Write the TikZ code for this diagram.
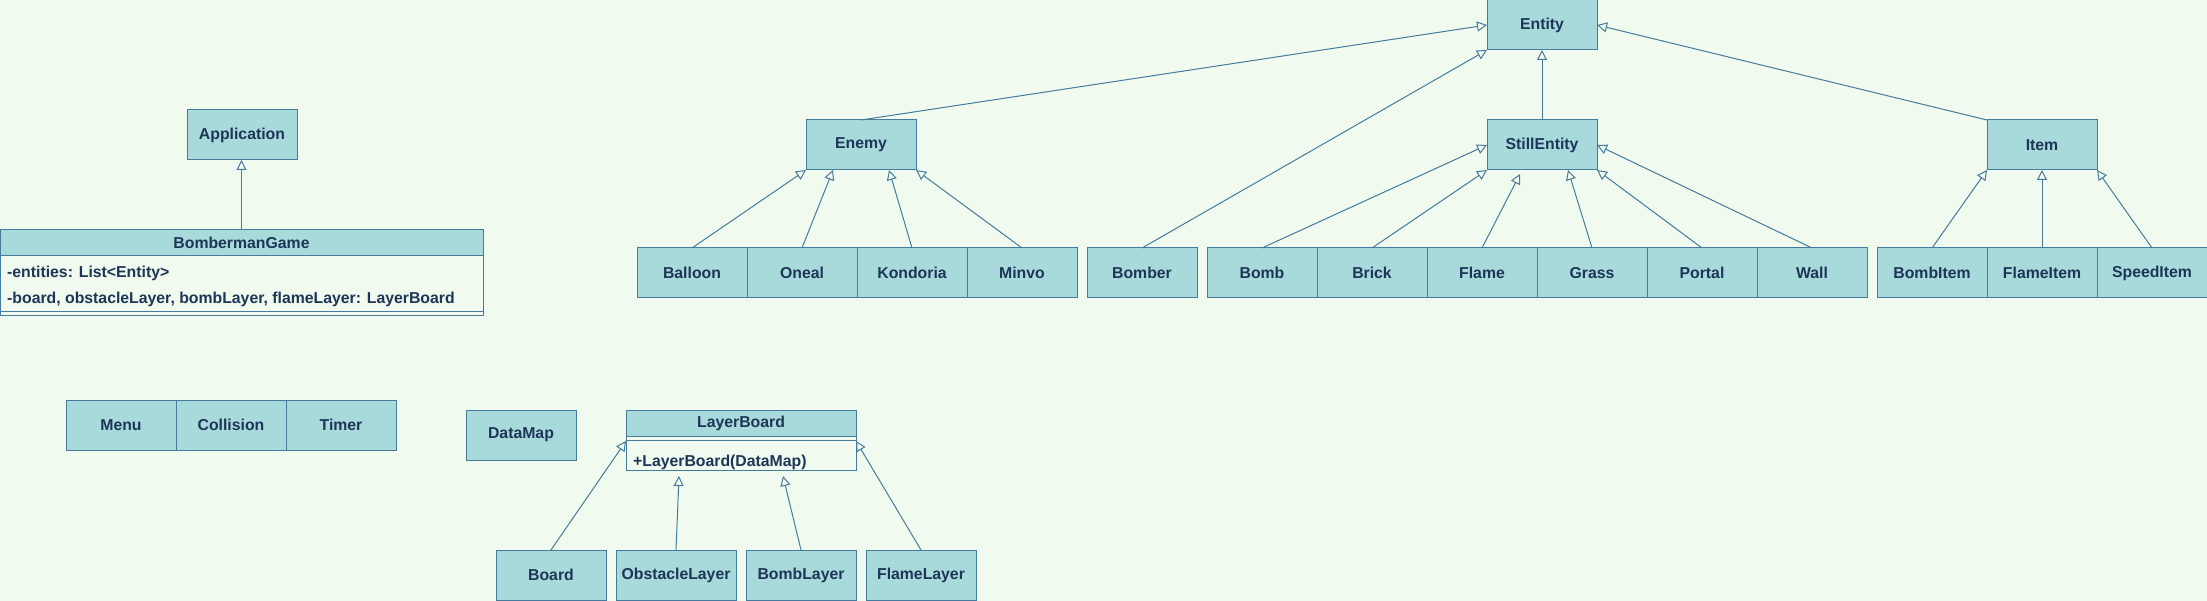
\documentclass[tikz,border=0pt]{standalone}
\usepackage{fontspec}
\setmainfont{Liberation Sans}
\usepackage{xcolor}
\usepackage{tikz}
\usetikzlibrary{positioning, arrows.meta}
\definecolor{oceanfill}{HTML}{A8DADC}
\definecolor{oceanline}{HTML}{457B9D}
\definecolor{oceantext}{HTML}{1D3557}
\definecolor{oceanbg}{HTML}{F1FAEE}
\tikzstyle{classbox} = [rectangle, minimum width=110pt, minimum height=50pt, inner sep=0pt, outer sep=0pt, text centered, draw=oceanline, fill=oceanfill, text=oceantext, line width=1pt, font=\bfseries\fontsize{15.8}{19}\selectfont]
\tikzstyle{classhead} = [classbox, minimum height=26pt]
\tikzstyle{classbody} = [rectangle, inner sep=0pt, outer sep=0pt, draw=oceanline, line width=1pt]
\tikzstyle{member} = [anchor=base west, inner sep=0pt, text=oceantext, font=\bfseries\fontsize{15.8}{19}\selectfont]
\tikzstyle{inherit} = [draw=oceanline, line width=1pt, -{Triangle[open, length=10pt, width=10pt]}]

\begin{document}
\begin{tikzpicture}[x=1pt, y=-1pt]

		% Background
		\fill [oceanbg] (0,0) rectangle (2207,601);
		\useasboundingbox (0,0) rectangle (2207,601);

		% Nodes for Entity hierarchy
		\node (entity) [classbox] at (1542,25) {Entity};
		\node (enemy) [classbox] at (861,145) {Enemy};
		\node (stillentity) [classbox] at (1542,145) {StillEntity};
		\node (item) [classbox] at (2042,145) {Item};

		% Enemies and bomber
		\node (balloon) [classbox] at (692,273) {Balloon};
		\node (oneal) [classbox, right=0pt of balloon] {Oneal};
		\node (kondoria) [classbox, right=0pt of oneal] {Kondoria};
		\node (minvo) [classbox, right=0pt of kondoria] {Minvo};
		\node (bomber) [classbox] at (1142,273) {Bomber};

		% Still entities
		\node (bomb) [classbox] at (1262,273) {Bomb};
		\node (brick) [classbox, right=0pt of bomb] {Brick};
		\node (flame) [classbox, right=0pt of brick] {Flame};
		\node (grass) [classbox, right=0pt of flame] {Grass};
		\node (portal) [classbox, right=0pt of grass] {Portal};
		\node (wall) [classbox, right=0pt of portal] {Wall};

		% Items
		\node (bombitem) [classbox] at (1932,273) {BombItem};
		\node (flameitem) [classbox, right=0pt of bombitem] {FlameItem};
		\node (speeditem) [classbox, right=0pt of flameitem] {SpeedItem};

		% Game class
		\node (application) [classbox] at (242,135) {Application};
		\node (game) [classhead, minimum width=483pt] at (241.5,243) {BombermanGame};
		\node (gamebody) [classbody, minimum width=483pt, minimum height=60pt, below=0pt of game] {};
		\node (gameentities) [member] at ([xshift=7pt, yshift=-21.7pt]gamebody.north west) {-entities: List<Entity>};
		\node (gamelayers) [member] at ([xshift=7pt, yshift=-47.7pt]gamebody.north west) {-board, obstacleLayer, bombLayer, flameLayer: LayerBoard};
		\draw [oceanline, line width=1pt] ([yshift=4pt]gamebody.south west) -- ([yshift=4pt]gamebody.south east);

		% Helpers
		\node (menu) [classbox] at (121,425) {Menu};
		\node (collision) [classbox, right=0pt of menu] {Collision};
		\node (timer) [classbox, right=0pt of collision] {Timer};
		\node (datamap) [classbox] at (521,435) {DataMap};

		% Layer boards
		\node (layerboard) [classhead, minimum width=230pt] at (741,423) {LayerBoard};
		\node (layerbody) [classbody, minimum width=230pt, minimum height=34pt, below=0pt of layerboard] {};
		\draw [oceanline, line width=1pt] ([yshift=-4pt]layerbody.north west) -- ([yshift=-4pt]layerbody.north east);
		\node (layerctor) [member] at ([xshift=7pt, yshift=4pt]layerbody.south west) {+LayerBoard(DataMap)};
		\node (board) [classbox] at (551,575) {Board};
		\node (obstaclelayer) [classbox, minimum width=120pt] at (676,575) {ObstacleLayer};
		\node (bomblayer) [classbox] at (801,575) {BombLayer};
		\node (flamelayer) [classbox] at (921,575) {FlameLayer};

		% Arrows for Entity
		\draw [inherit] (enemy.north) -- (entity.west);
		\draw [inherit] (bomber.north) -- (entity.south west);
		\draw [inherit] (stillentity) -- (entity);
		\draw [inherit] (item.north west) -- (entity.east);

		% Arrows for Enemy
		\draw [inherit] (balloon.north) -- (enemy.south west);
		\draw [inherit] (oneal.north) -- ([xshift=27pt]enemy.south west);
		\draw [inherit] (kondoria.north) -- ([xshift=-27pt]enemy.south east);
		\draw [inherit] (minvo.north) -- (enemy.south east);

		% Arrows for StillEntity
		\draw [inherit] (bomb.north) -- (stillentity.west);
		\draw [inherit] (brick.north) -- (stillentity.south west);
		\draw [inherit] (flame.north) -- ([xshift=33pt, yshift=-4pt]stillentity.south west);
		\draw [inherit] (grass.north) -- ([xshift=-29pt]stillentity.south east);
		\draw [inherit] (portal.north) -- (stillentity.south east);
		\draw [inherit] (wall.north) -- (stillentity.east);

		% Arrows for Item
		\draw [inherit] (bombitem.north) -- (item.south west);
		\draw [inherit] (flameitem) -- (item);
		\draw [inherit] (speeditem.north) -- (item.south east);

		% Arrows for game and layers
		\draw [inherit] (game.north) -- (game.north |- application.south);
		\draw [inherit] (board.north) -- ([yshift=-5pt]layerbody.north west);
		\draw [inherit] (obstaclelayer.north) -- ([xshift=53pt, yshift=-6pt]layerbody.south west);
		\draw [inherit] (bomblayer.north) -- ([xshift=-73pt, yshift=-6pt]layerbody.south east);
		\draw [inherit] (flamelayer.north) -- ([yshift=-5pt]layerbody.north east);

	\end{tikzpicture}
\end{document}
